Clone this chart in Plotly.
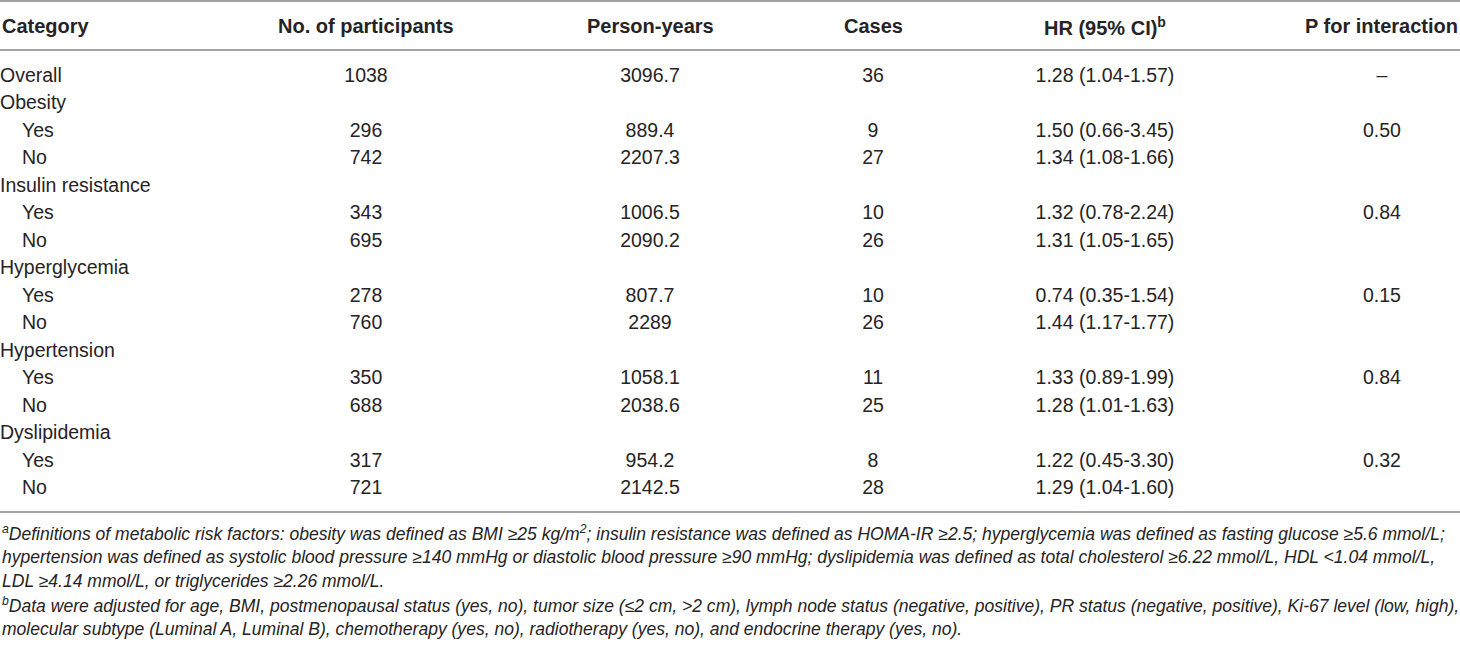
import plotly.graph_objects as go

# ---- data ----
categories = ["Overall", "Obesity", "Yes", "No", "Insulin resistance", "Yes", "No",
              "Hyperglycemia", "Yes", "No", "Hypertension", "Yes", "No",
              "Dyslipidemia", "Yes", "No"]
is_sub = [False, False, True, True, False, True, True, False, True, True,
          False, True, True, False, True, True]
participants = ["1038", "", "296", "742", "", "343", "695", "", "278", "760",
                "", "350", "688", "", "317", "721"]
person_years = ["3096.7", "", "889.4", "2207.3", "", "1006.5", "2090.2", "", "807.7", "2289",
                "", "1058.1", "2038.6", "", "954.2", "2142.5"]
cases = ["36", "", "9", "27", "", "10", "26", "", "10", "26", "", "11", "25", "", "8", "28"]
hr_ci = ["1.28 (1.04-1.57)", "", "1.50 (0.66-3.45)", "1.34 (1.08-1.66)", "",
         "1.32 (0.78-2.24)", "1.31 (1.05-1.65)", "", "0.74 (0.35-1.54)", "1.44 (1.17-1.77)",
         "", "1.33 (0.89-1.99)", "1.28 (1.01-1.63)", "", "1.22 (0.45-3.30)", "1.29 (1.04-1.60)"]
p_interaction = ["–", "", "0.50", "", "", "0.84", "", "", "0.15", "", "", "0.84", "", "", "0.32", ""]
headers = ["Category", "No. of participants", "Person-years", "Cases",
           "HR (95% CI)<sup>b</sup>", "P for interaction"]
footnotes = [
    "<sup>a</sup>Definitions of metabolic risk factors: obesity was defined as BMI ≥25 kg/m<sup>2</sup>; insulin resistance was defined as HOMA-IR ≥2.5; hyperglycemia was defined as fasting glucose ≥5.6 mmol/L;",
    "hypertension was defined as systolic blood pressure ≥140 mmHg or diastolic blood pressure ≥90 mmHg; dyslipidemia was defined as total cholesterol ≥6.22 mmol/L, HDL &lt;1.04 mmol/L,",
    "LDL ≥4.14 mmol/L, or triglycerides ≥2.26 mmol/L.",
    "<sup>b</sup>Data were adjusted for age, BMI, postmenopausal status (yes, no), tumor size (≤2 cm, &gt;2 cm), lymph node status (negative, positive), PR status (negative, positive), Ki-67 level (low, high),",
    "molecular subtype (Luminal A, Luminal B), chemotherapy (yes, no), radiotherapy (yes, no), and endocrine therapy (yes, no).",
]

# ---- layout constants (pixel-like axis units) ----
W, H = 1460, 647
COL_X = [0, 366, 650, 873, 1105, 1382]
INDENT = 22
HEADER_Y = 26
ROW0_Y = 77
ROW_PITCH = 27.5
FOOT0_Y = 533
FOOT_PITCH = 24
TEXT_COLOR = "#262324"
LINE_COLOR = "#a3a3a3"
BODY_FONT = "Liberation Sans, Arial, sans-serif"
BODY_SIZE = 19.5
HEAD_SIZE = 20
FOOT_SIZE = 17.55

row_y = [ROW0_Y + i * ROW_PITCH for i in range(len(categories))]

fig = go.Figure()

# category column
fig.add_trace(go.Scatter(
    x=[COL_X[0] + (INDENT if s else 0) for s in is_sub], y=row_y,
    text=categories, mode="text", textposition="middle right",
    textfont=dict(family=BODY_FONT, size=BODY_SIZE, color=TEXT_COLOR),
    hoverinfo="skip", showlegend=False))

for ci, col in enumerate([participants, person_years, cases, hr_ci, p_interaction], start=1):
    ys = [y for y, v in zip(row_y, col) if v != ""]
    vals = [v for v in col if v != ""]
    fig.add_trace(go.Scatter(
        x=[COL_X[ci]] * len(vals), y=ys, text=vals, mode="text",
        textposition="middle center",
        textfont=dict(family=BODY_FONT, size=BODY_SIZE, color=TEXT_COLOR),
        hoverinfo="skip", showlegend=False))

# headers
head_font = dict(family=BODY_FONT, size=HEAD_SIZE, color=TEXT_COLOR, weight="bold")
for i, h in enumerate(headers):
    if i == 0:
        x, anchor = COL_X[0], "left"
    elif i == len(headers) - 1:
        x, anchor = W, "right"
    else:
        x, anchor = COL_X[i], "center"
    fig.add_annotation(x=x, y=HEADER_Y, text=h, xanchor=anchor, yanchor="middle",
                       showarrow=False, font=head_font, xref="x", yref="y")

# rules
for yy in [1, 50, 512]:
    fig.add_shape(type="line", x0=0, x1=W, y0=yy, y1=yy, xref="x", yref="y",
                  line=dict(color=LINE_COLOR, width=2))

# footnotes
for i, t in enumerate(footnotes):
    fig.add_annotation(x=0, y=FOOT0_Y + i * FOOT_PITCH, text="<i>" + t + "</i>",
                       xanchor="left", yanchor="middle", showarrow=False,
                       xref="x", yref="y",
                       font=dict(family=BODY_FONT, size=FOOT_SIZE, color=TEXT_COLOR))

fig.update_layout(
    width=W, height=H, margin=dict(l=0, r=0, t=0, b=0),
    paper_bgcolor="white", plot_bgcolor="white",
    xaxis=dict(range=[0, W], visible=False, fixedrange=True),
    yaxis=dict(range=[H, 0], visible=False, fixedrange=True),
)

fig.write_html("out.html", config={"displayModeBar": False},
               post_script="document.body.style.margin='0';document.body.style.padding='0';")
